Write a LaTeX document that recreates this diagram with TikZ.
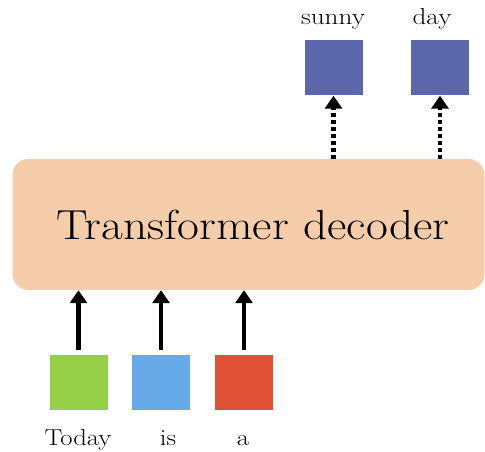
\documentclass[tikz,border=0pt]{standalone}
\usepackage{tikz}
\usetikzlibrary{arrows.meta,positioning}
\definecolor{decPeach}{HTML}{F5CDAA}
\definecolor{tokGreen}{HTML}{96D048}
\definecolor{tokBlue}{HTML}{66AAEA}
\definecolor{tokRed}{HTML}{DE5134}
\definecolor{tokOut}{HTML}{5B66AB}
% wider letters for the labels
\newcommand{\wide}[2]{\scalebox{#1}[1]{#2}}
\tikzset{
  decBox/.style={
    fill=decPeach,
    rounded corners=16pt,
    minimum width=472pt,
    minimum height=131pt,
    font=\fontsize{42}{46}\selectfont
  },
  tokBox/.style={
    minimum width=58pt,
    minimum height=55pt,
    inner sep=0pt
  },
  tokLabel/.style={
    font=\fontsize{23}{26}\selectfont,
    inner sep=0pt
  },
  feedArrow/.style={
    -{Triangle[length=13pt,width=17pt]},
    line width=4.5pt
  },
  outArrow/.style={
    feedArrow,
    dash pattern=on 4pt off 3pt
  }
}

\begin{document}
\begin{tikzpicture}[x=1pt,y=1pt]
  \useasboundingbox (0,0) rectangle (485,452);

  \node[decBox] (dec) at (248.5,227.5) {\hspace{9pt}\wide{1.13}{Transformer decoder}};

  % inputs
  \node[tokBox, fill=tokGreen] (today) at (78.5,69.5) {};
  \node[tokBox, fill=tokBlue] (is) at (161,69.5) {};
  \node[tokBox, fill=tokRed] (a) at (244,69.5) {};
  \node[tokLabel, anchor=base] (todayLbl) at (78,6) {\wide{1.16}{Today}};
  \node[tokLabel, anchor=base] (isLbl) at (168,6) {\wide{1.16}{is}};
  \node[tokLabel, anchor=base] (aLbl) at (243,6) {\wide{1.16}{a}};

  % outputs
  \node[tokBox, fill=tokOut] (sunny) at (333.5,384) {};
  \node[tokBox, fill=tokOut] (day) at (440,384) {};
  \node[tokLabel, anchor=base] (sunnyLbl) at (333,427) {\wide{1.18}{sunny}};
  \node[tokLabel, anchor=base] (dayLbl) at (432,427) {\wide{1.18}{day}};

  \foreach \n in {today,is,a} {
    \draw[feedArrow, shorten <=5pt] (\n.north) -- (\n |- dec.south);
  }
  \foreach \n in {sunny,day} {
    \draw[outArrow] (\n |- dec.north) -- (\n.south);
  }
\end{tikzpicture}
\end{document}
